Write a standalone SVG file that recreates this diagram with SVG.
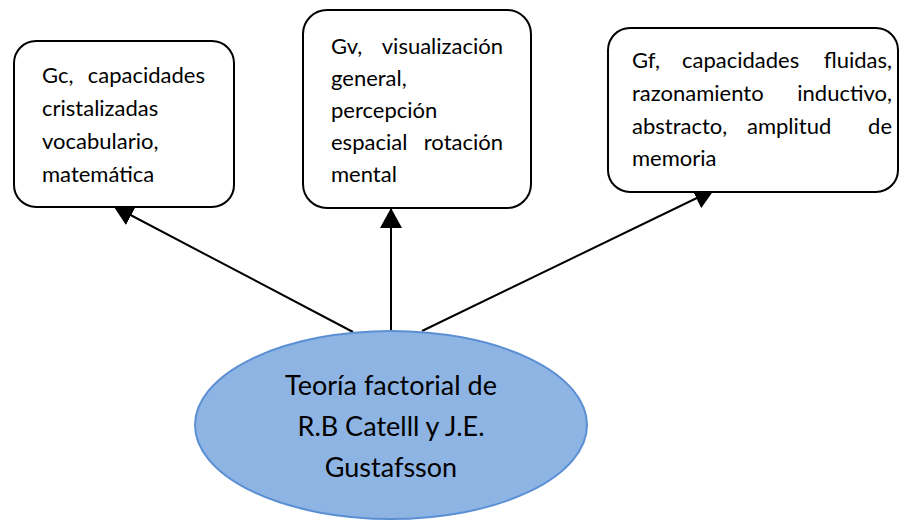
<svg xmlns="http://www.w3.org/2000/svg" width="899" height="520" viewBox="0 0 899 520">
<style>
.box{fill:#fff;stroke:#000;stroke-width:2}
.t{font-family:Lato,"Open Sans",sans-serif;font-size:22px;fill:#000}
.e{text-anchor:end}
.et{font-family:Lato,"Open Sans",sans-serif;font-size:27px;fill:#000;text-anchor:middle}
.c{stroke:#000;stroke-width:2;fill:none;marker-end:url(#ah)}
</style>
<defs>
<marker id="ah" markerUnits="userSpaceOnUse" markerWidth="22" markerHeight="22" refX="20" refY="11" orient="auto" viewBox="0 0 22 22">
<path d="M0,0 L20,11 L0,22 z" fill="#000"/>
</marker>
</defs>
<rect width="899" height="520" fill="#fff"/>
<g id="connectors">
<line class="c" x1="353" y1="332" x2="113.4" y2="206"/>
<line class="c" x1="391" y1="331" x2="391" y2="208"/>
<line class="c" x1="422" y1="331" x2="714.4" y2="189.5"/>
</g>
<g id="root">
<ellipse cx="391" cy="425" rx="196" ry="94" fill="#8EB4E3" stroke="#5B8FD4" stroke-width="2"/>
<text class="et" x="391" y="395">Teoría factorial de</text>
<text class="et" x="391" y="436">R.B Catelll y J.E.</text>
<text class="et" x="391" y="477">Gustafsson</text>
</g>
<g id="gc">
<rect class="box" x="14" y="41" width="220" height="166" rx="22"/>
<text class="t" x="42" y="83">Gc,</text>
<text class="t e" x="205" y="83">capacidades</text>
<text class="t" x="42" y="116">cristalizadas</text>
<text class="t" x="42" y="149">vocabulario,</text>
<text class="t" x="42" y="182">matemática</text>
</g>
<g id="gv">
<rect class="box" x="303" y="10" width="228" height="198" rx="24"/>
<text class="t" x="331" y="54">Gv,</text>
<text class="t e" x="503" y="54">visualización</text>
<text class="t" x="331" y="86">general,</text>
<text class="t" x="331" y="118">percepción</text>
<text class="t" x="331" y="150">espacial</text>
<text class="t e" x="503" y="150">rotación</text>
<text class="t" x="331" y="182">mental</text>
</g>
<g id="gf">
<rect class="box" x="608" y="28" width="290" height="164" rx="22"/>
<text class="t" x="632" y="68">Gf,</text>
<text class="t" x="682" y="68">capacidades</text>
<text class="t e" x="892" y="68">fluidas,</text>
<text class="t" x="632" y="101">razonamiento</text>
<text class="t e" x="892" y="101">inductivo,</text>
<text class="t" x="632" y="134">abstracto,</text>
<text class="t" x="747" y="134">amplitud</text>
<text class="t e" x="892" y="134">de</text>
<text class="t" x="632" y="166">memoria</text>
</g>
</svg>
